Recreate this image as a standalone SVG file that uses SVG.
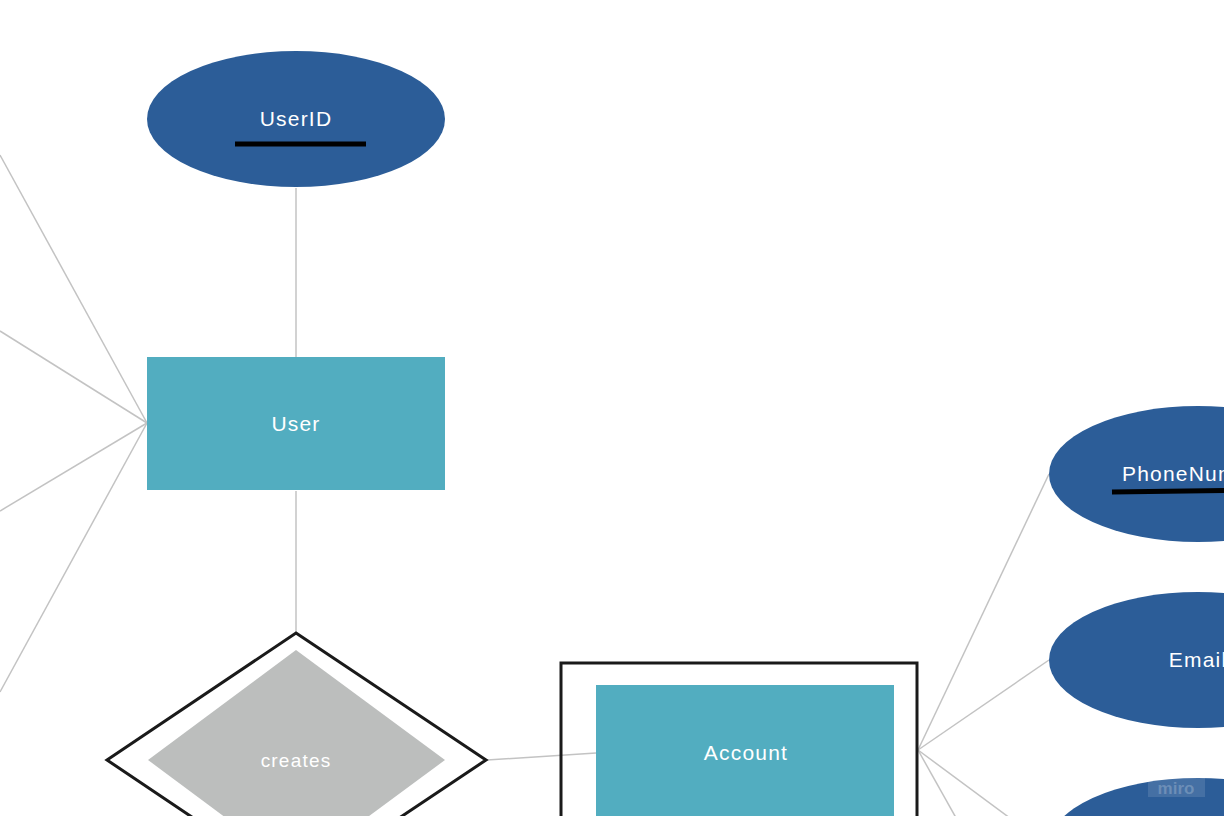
<svg xmlns="http://www.w3.org/2000/svg" width="1224" height="816" viewBox="0 0 1224 816">
<style>
.conn{stroke:#c3c3c3;stroke-width:1.5;fill:none}
.attr{fill:#2c5d98}
.ent{fill:#52adc0}
.lbl{font-family:"Liberation Sans",Arial,sans-serif;fill:#ffffff;text-anchor:middle;dominant-baseline:central;letter-spacing:1.2px}
.key{stroke:#000;stroke-width:5}
.frame{fill:none;stroke:#1a1a1a;stroke-width:3}
</style>
<rect width="1224" height="816" fill="#ffffff"/>
<g id="connectors">
<line class="conn" x1="0" y1="155" x2="147" y2="423"/>
<line class="conn" x1="0" y1="331" x2="147" y2="423"/>
<line class="conn" x1="0" y1="511" x2="147" y2="423"/>
<line class="conn" x1="0" y1="692" x2="147" y2="423"/>
<line class="conn" x1="296" y1="188" x2="296" y2="357"/>
<line class="conn" x1="296" y1="491" x2="296" y2="633"/>
<line class="conn" x1="487" y1="760" x2="596" y2="753"/>
<line class="conn" x1="918" y1="750" x2="1049" y2="474"/>
<line class="conn" x1="918" y1="750" x2="1049" y2="660"/>
<line class="conn" x1="918" y1="750" x2="969" y2="841"/>
<line class="conn" x1="918" y1="750" x2="1049" y2="847"/>
</g>
<g id="userid">
<ellipse class="attr" cx="296" cy="119" rx="149" ry="68"/>
<text class="lbl" x="296" y="118" font-size="21">UserID</text>
<line class="key" x1="235" y1="144" x2="366" y2="144"/>
</g>
<g id="user">
<rect class="ent" x="147" y="357" width="298" height="133"/>
<text class="lbl" x="296" y="423" font-size="21">User</text>
</g>
<g id="creates">
<polygon class="frame" points="296,633 486,760 296,887 107,760"/>
<polygon fill="#bcbebd" points="296,650 445,760 296,870 148,760"/>
<text class="lbl" x="296" y="760" font-size="19">creates</text>
</g>
<g id="account">
<rect class="frame" x="561" y="663" width="356" height="200"/>
<rect class="ent" x="596" y="685" width="298" height="160"/>
<text class="lbl" x="746" y="752" font-size="21">Account</text>
</g>
<g id="phonenumber">
<ellipse class="attr" cx="1198" cy="474" rx="149" ry="68"/>
<text class="lbl" x="1122" y="473" font-size="21" style="text-anchor:start">PhoneNumber</text>
<line class="key" x1="1112" y1="492" x2="1250" y2="490"/>
</g>
<g id="email">
<ellipse class="attr" cx="1198" cy="660" rx="149" ry="68"/>
<text class="lbl" x="1198" y="659" font-size="21">Email</text>
</g>
<g id="attr3">
<ellipse class="attr" cx="1198" cy="846" rx="149" ry="68"/>
</g>
<g id="watermark">
<rect x="1148" y="778" width="57" height="19" fill="#ffffff" fill-opacity="0.12"/>
<text x="1176" y="788" font-family="Liberation Sans,Arial,sans-serif" font-size="17" font-weight="bold" fill="#ffffff" fill-opacity="0.22" text-anchor="middle" dominant-baseline="central">miro</text>
</g>
</svg>
